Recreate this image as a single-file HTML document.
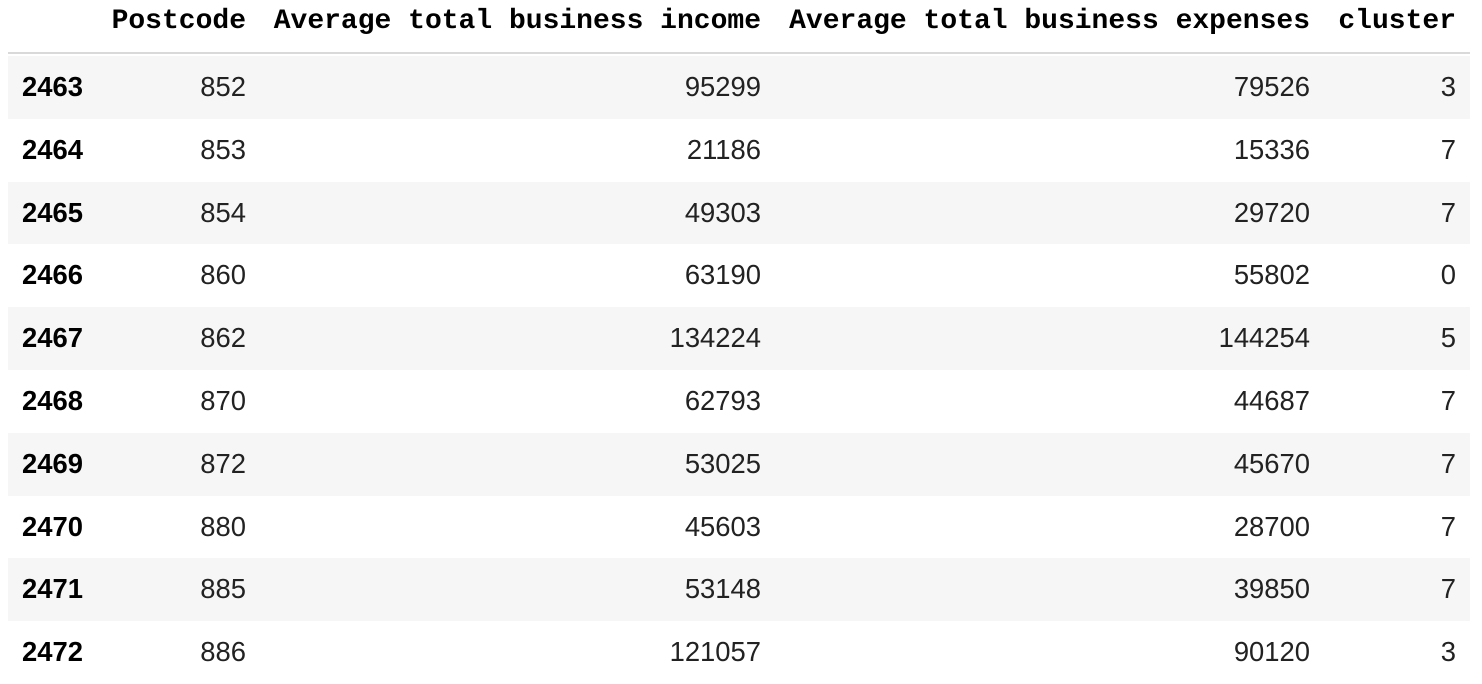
<!DOCTYPE html>
<html><head><meta charset="utf-8"><style>
html,body{margin:0;padding:0;background:#fff;width:1482px;height:683px;overflow:hidden}
.t{position:absolute;white-space:nowrap}
.h{font-family:"Liberation Mono",monospace;font-weight:bold;font-size:28px;color:#000;top:5px;line-height:34px}
.row{position:absolute;left:8px;width:1462px;height:62.8px}
.c{position:absolute;font-family:"Liberation Sans",sans-serif;font-size:27.4px;color:#222;line-height:62.8px;top:0}
</style></head><body>
<div class="t h" style="right:1236px">Postcode</div>
<div class="t h" style="right:721px">Average total business income</div>
<div class="t h" style="right:172px">Average total business expenses</div>
<div class="t h" style="right:26px">cluster</div>
<div style="position:absolute;left:8px;width:1462px;top:52px;height:2px;background:#d9d9d9"></div>
<div id="body"></div>
<script>
const idx=[2463,2464,2465,2466,2467,2468,2469,2470,2471,2472];
const postcodes=[852,853,854,860,862,870,872,880,885,886];
const income=[95299,21186,49303,63190,134224,62793,53025,45603,53148,121057];
const expenses=[79526,15336,29720,55802,144254,44687,45670,28700,39850,90120];
const cluster=[3,7,7,0,5,7,7,7,7,3];
const b=document.getElementById('body');
idx.forEach((id,i)=>{
  const r=document.createElement('div');
  r.className='row';
  r.style.top=(56+i*62.8)+'px';
  r.style.background=i%2===0?'#f6f6f6':'#fff';
  
  
  const cells=[[id,null,14,true],[postcodes[i],1224],[income[i],709],[expenses[i],160],[cluster[i],14]];
  cells.forEach(([v,right,left,bold])=>{
    const c=document.createElement('div');
    c.className='c';
    c.textContent=v;
    if(right!==null){c.style.right=right+'px';}else{c.style.left=left+'px';c.style.fontWeight='bold';c.style.color='#000';}
    
    
    r.appendChild(c);
  });
  b.appendChild(r);
});
</script>
</body></html>
